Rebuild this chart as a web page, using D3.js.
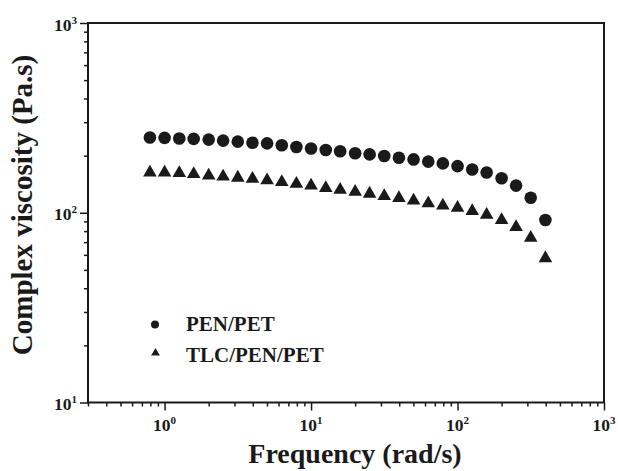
<!DOCTYPE html>
<html>
<head>
<meta charset="utf-8">
<script src="https://cdn.jsdelivr.net/npm/d3@7"></script>
<style>
  body { margin: 0; background: #fff; }
  svg text { font-family: "Liberation Serif", "Times New Roman", serif; font-weight: bold; fill: #1a1a1a; }
</style>
</head>
<body>
<div id="chart"></div>
<script>
// frequency (rad/s), 10 points per decade
const freq = [0.794, 1.0, 1.26, 1.58, 2.0, 2.51, 3.16, 3.98, 5.01, 6.31,
  7.94, 10, 12.6, 15.8, 20.0, 25.1, 31.6, 39.8, 50.1, 63.1,
  79.4, 100, 126, 158, 200, 251, 316, 398]

// complex viscosity (Pa.s)
const penPet = [249, 248, 246, 245, 243, 240, 237, 234, 232, 227,
  222, 218, 214, 211, 206, 203, 199, 195, 191, 186,
  182, 176, 169, 163, 152, 139, 120, 91.5]

const tlcPenPet = [163, 163, 162, 160, 157, 155, 153, 151, 148, 145,
  142, 139, 135, 132, 129, 126, 122.5, 119.5, 116, 112,
  109, 106, 102, 97.6, 91.5, 84, 73.8, 57.6]

const seriesNames = ["PEN/PET", "TLC/PEN/PET"]
const xMajor = [1, 10, 100, 1000]
const yMajor = [10, 100, 1000]
const xTitle = "Frequency (rad/s)"
const yTitle = "Complex viscosity (Pa.s)"

function drawChart () {
  const width = 618
  const height = 471
  const margin = { top: 23, right: 14, bottom: 68.5, left: 88 }
  const ink = "#1a1a1a"

  const svg = d3.select("#chart")
    .append("svg")
    .attr("width", width)
    .attr("height", height)

  // scales
  const x = d3.scaleLog()
    .domain([0.3, 1000])
    .range([margin.left, width - margin.right])

  const y = d3.scaleLog()
    .domain([10, 1000])
    .range([height - margin.bottom, margin.top])

  const isMajor = v => Math.abs(Math.log10(v) - Math.round(Math.log10(v))) < 1e-9
  const xMinor = x.ticks().filter(v => !isMajor(v))
  const yMinor = y.ticks().filter(v => !isMajor(v))

  // axes: major and minor ticks drawn separately
  const axisStyle = g => {
    g.select(".domain").remove()
    g.selectAll("line").attr("stroke", ink).attr("stroke-width", 1.5)
  }

  svg.append("g")
    .attr("transform", `translate(0,${height - margin.bottom})`)
    .call(d3.axisBottom(x).tickValues(xMajor).tickSize(8).tickFormat(""))
    .call(axisStyle)
  svg.append("g")
    .attr("transform", `translate(0,${height - margin.bottom})`)
    .call(d3.axisBottom(x).tickValues(xMinor).tickSize(4).tickFormat(""))
    .call(axisStyle)
  svg.append("g")
    .attr("transform", `translate(${margin.left},0)`)
    .call(d3.axisLeft(y).tickValues(yMajor).tickSize(8).tickFormat(""))
    .call(axisStyle)
  svg.append("g")
    .attr("transform", `translate(${margin.left},0)`)
    .call(d3.axisLeft(y).tickValues(yMinor).tickSize(4).tickFormat(""))
    .call(axisStyle)

  // frame
  svg.append("rect")
    .attr("x", margin.left)
    .attr("y", margin.top)
    .attr("width", width - margin.left - margin.right)
    .attr("height", height - margin.top - margin.bottom)
    .attr("fill", "none")
    .attr("stroke", ink)
    .attr("stroke-width", 2)

  // tick labels as 10 with superscript exponent
  const powerLabel = (sel) => {
    sel.text("10")
    sel.append("tspan")
      .attr("dy", -7)
      .attr("font-size", 11)
      .text(d => Math.round(Math.log10(d)))
  }

  svg.append("g")
    .selectAll("text")
    .data(xMajor)
    .join("text")
      .attr("x", d => x(d))
      .attr("y", 431)
      .attr("text-anchor", "middle")
      .attr("font-size", 17.5)
      .call(powerLabel)

  svg.append("g")
    .selectAll("text")
    .data(yMajor)
    .join("text")
      .attr("x", 77)
      .attr("y", d => y(d) + 7.5)
      .attr("text-anchor", "end")
      .attr("font-size", 17.5)
      .call(powerLabel)

  // axis titles
  svg.append("text")
    .attr("x", 355)
    .attr("y", 463)
    .attr("text-anchor", "middle")
    .attr("font-size", 28)
    .text(xTitle)

  svg.append("text")
    .attr("transform", "translate(32,205) rotate(-90)")
    .attr("text-anchor", "middle")
    .attr("font-size", 29)
    .text(yTitle)

  // data markers
  const rows = freq.map((f, i) => ({ f, pen: penPet[i], tlc: tlcPenPet[i] }))

  svg.append("g")
    .selectAll("circle")
    .data(rows)
    .join("circle")
      .attr("cx", d => x(d.f))
      .attr("cy", d => y(d.pen))
      .attr("r", 6.3)
      .attr("fill", ink)

  const tri = d3.symbol().type(d3.symbolTriangle).size(80)
  svg.append("g")
    .selectAll("path")
    .data(rows)
    .join("path")
      .attr("transform", d => `translate(${x(d.f)},${y(d.tlc)})`)
      .attr("d", tri)
      .attr("fill", ink)

  // legend
  svg.append("circle")
    .attr("cx", 155)
    .attr("cy", 324.5)
    .attr("r", 4)
    .attr("fill", ink)
  svg.append("path")
    .attr("transform", "translate(155.5,353)")
    .attr("d", d3.symbol().type(d3.symbolTriangle).size(34))
    .attr("fill", ink)

  svg.append("g")
    .selectAll("text")
    .data(seriesNames)
    .join("text")
      .attr("x", 186)
      .attr("y", (d, i) => 331 + i * 31)
      .attr("font-size", 21)
      .text(d => d)
}

drawChart()
</script>
</body>
</html>
